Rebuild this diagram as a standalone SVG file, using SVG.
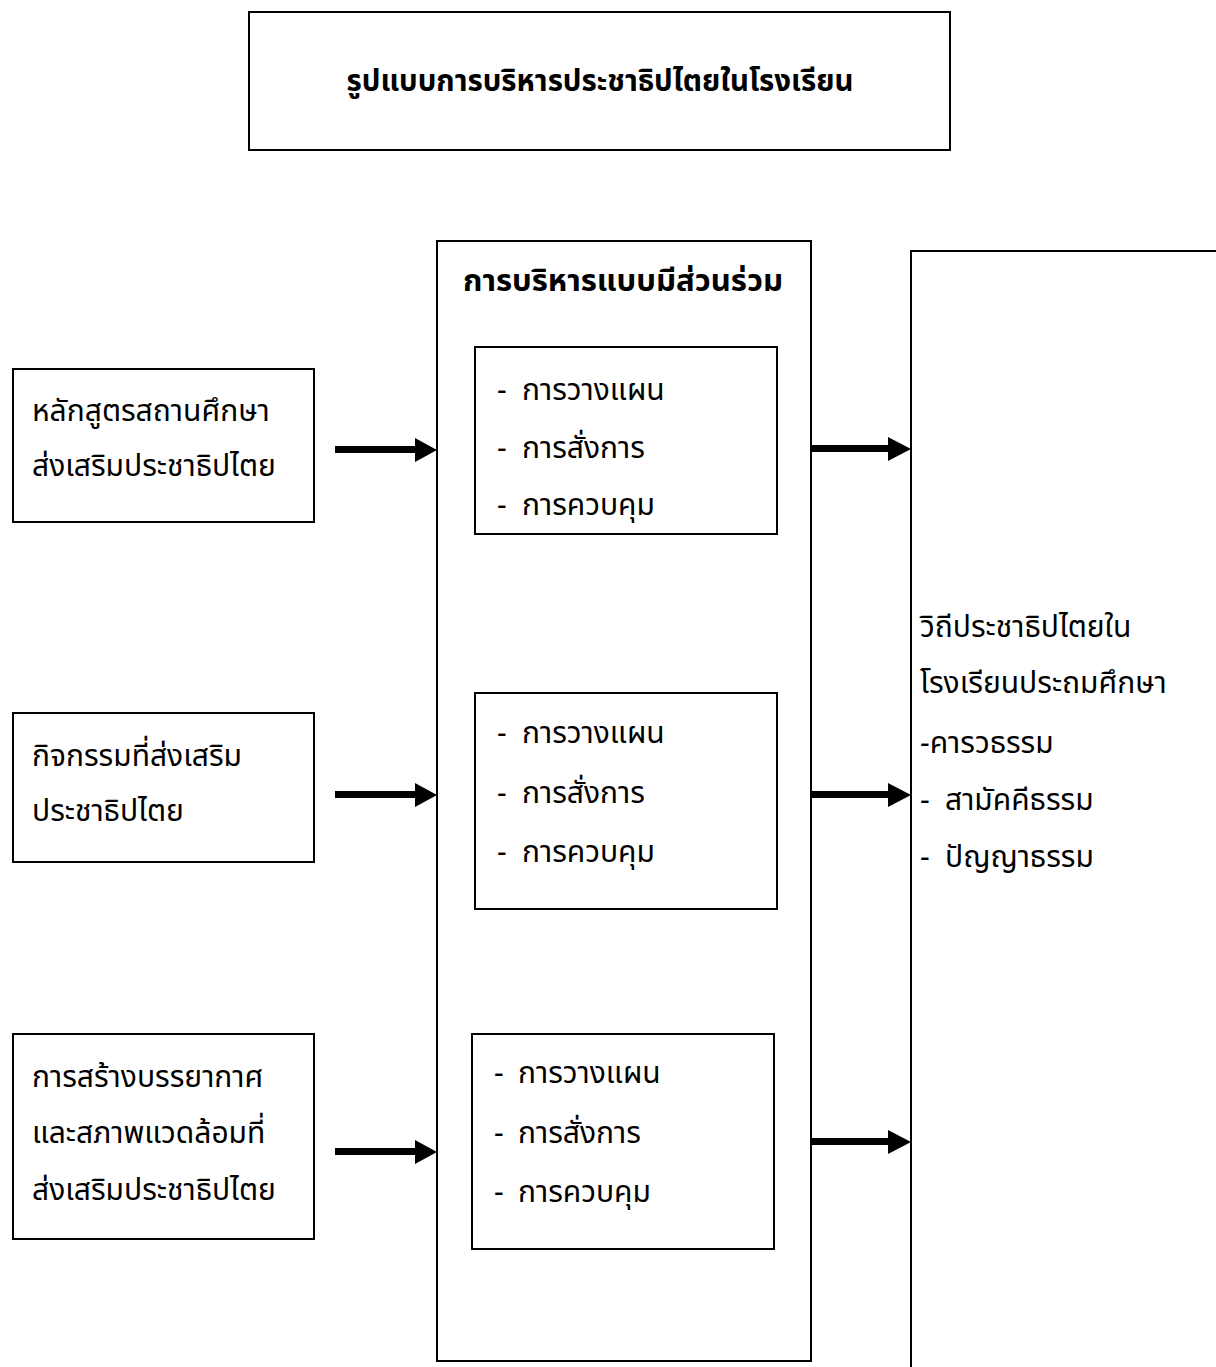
<svg xmlns="http://www.w3.org/2000/svg" width="1216" height="1367" viewBox="0 0 1216 1367">
<defs>
<style>
.box{fill:none;stroke:#000;stroke-width:2}
.t{font-family:'Noto Sans Thai','Noto Sans','DejaVu Sans',sans-serif;font-size:30px;fill:#000}
.b{font-weight:bold;font-size:30px}
.arrow{fill:#000}
</style>
</defs>
<rect width="1216" height="1367" fill="#fff"/>
<g id="title">
<rect class="box" x="249" y="12" width="701" height="138"/>
<text class="t b" x="600" y="91" text-anchor="middle" textLength="507" lengthAdjust="spacingAndGlyphs">รูปแบบการบริหารประชาธิปไตยในโรงเรียน</text>
</g>
<g id="input1">
<rect class="box" x="13" y="369" width="301" height="153"/>
<text class="t" x="32" y="421">หลักสูตรสถานศึกษา</text>
<text class="t" x="32" y="476">ส่งเสริมประชาธิปไตย</text>
</g>
<g id="input2">
<rect class="box" x="13" y="713" width="301" height="149"/>
<text class="t" x="32" y="766">กิจกรรมที่ส่งเสริม</text>
<text class="t" x="32" y="821">ประชาธิปไตย</text>
</g>
<g id="input3">
<rect class="box" x="13" y="1034" width="301" height="205"/>
<text class="t" x="32" y="1087">การสร้างบรรยากาศ</text>
<text class="t" x="32" y="1143">และสภาพแวดล้อมที่</text>
<text class="t" x="32" y="1200">ส่งเสริมประชาธิปไตย</text>
</g>
<g id="process">
<rect class="box" x="437" y="241" width="374" height="1120"/>
<text class="t b" x="623" y="291" text-anchor="middle" textLength="320" lengthAdjust="spacingAndGlyphs">การบริหารแบบมีส่วนร่วม</text>
</g>
<g id="process1">
<rect class="box" x="475" y="347" width="302" height="187"/>
<text class="t" x="497" y="400">-</text><text class="t" x="522" y="400">การวางแผน</text>
<text class="t" x="497" y="458">-</text><text class="t" x="522" y="458">การสั่งการ</text>
<text class="t" x="497" y="515">-</text><text class="t" x="522" y="515">การควบคุม</text>
</g>
<g id="process2">
<rect class="box" x="475" y="693" width="302" height="216"/>
<text class="t" x="497" y="743">-</text><text class="t" x="522" y="743">การวางแผน</text>
<text class="t" x="497" y="803">-</text><text class="t" x="522" y="803">การสั่งการ</text>
<text class="t" x="497" y="862">-</text><text class="t" x="522" y="862">การควบคุม</text>
</g>
<g id="process3">
<rect class="box" x="472" y="1034" width="302" height="215"/>
<text class="t" x="494" y="1083">-</text><text class="t" x="518" y="1083">การวางแผน</text>
<text class="t" x="494" y="1143">-</text><text class="t" x="518" y="1143">การสั่งการ</text>
<text class="t" x="494" y="1202">-</text><text class="t" x="518" y="1202">การควบคุม</text>
</g>
<g id="output">
<rect class="box" x="911" y="251" width="400" height="1200"/>
<text class="t" x="920" y="637">วิถีประชาธิปไตยใน</text>
<text class="t" x="920" y="693">โรงเรียนประถมศึกษา</text>
<text class="t" x="920" y="753">-คารวธรรม</text>
<text class="t" x="920" y="810">-</text><text class="t" x="945" y="810">สามัคคีธรรม</text>
<text class="t" x="920" y="867">-</text><text class="t" x="945" y="867">ปัญญาธรรม</text>
</g>
<g id="connectors">
<path class="arrow" d="M335,446 H415 V438 L437,450 L415,462 V453 H335 Z"/>
<path class="arrow" d="M335,791 H415 V783 L437,795 L415,807 V798 H335 Z"/>
<path class="arrow" d="M335,1148 H415 V1140 L437,1152 L415,1164 V1155 H335 Z"/>
<path class="arrow" d="M811,445 H888 V437 L911,449 L888,461 V452 H811 Z"/>
<path class="arrow" d="M811,791 H888 V783 L911,795 L888,807 V798 H811 Z"/>
<path class="arrow" d="M811,1138 H888 V1130 L911,1142 L888,1154 V1145 H811 Z"/>
</g>
</svg>
